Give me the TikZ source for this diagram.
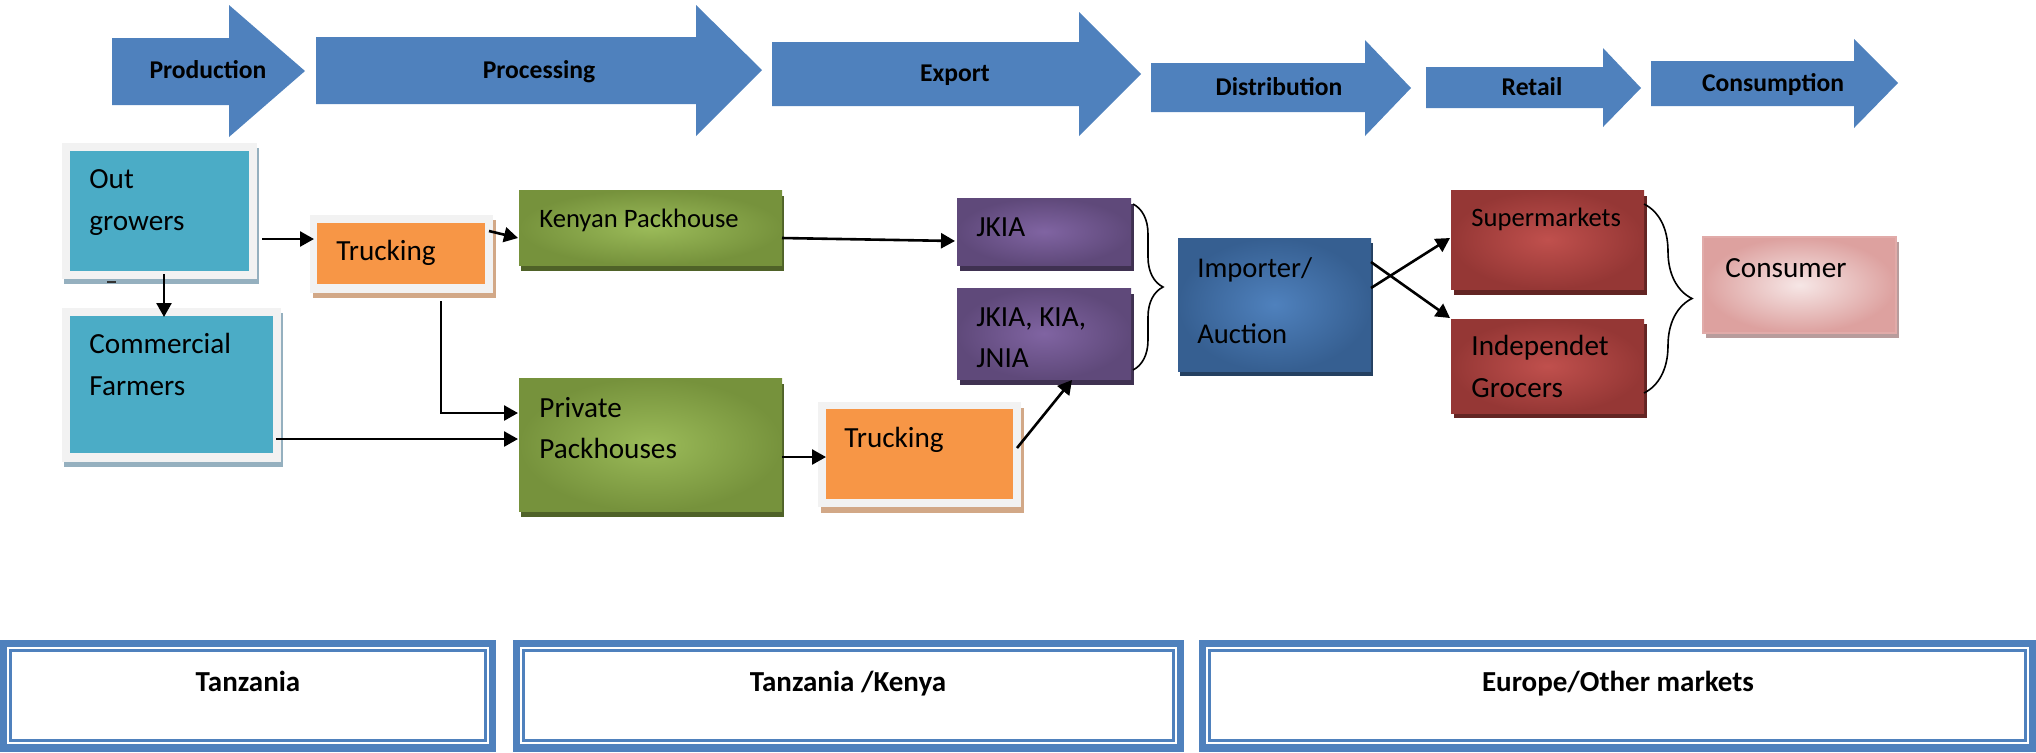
\documentclass[tikz,border=0pt]{standalone}
\usepackage{fontspec}
\setmainfont{Carlito}
\usetikzlibrary{decorations.pathreplacing,arrows.meta}
\definecolor{arrblue}{HTML}{4F81BD}
\definecolor{cteal}{HTML}{4BACC6}
\definecolor{framegray}{HTML}{F2F2F2}
\definecolor{tealshadow}{HTML}{95B0BF}
\definecolor{corange}{HTML}{F79646}
\definecolor{orangeshadow}{HTML}{D2A887}
\definecolor{greenin}{HTML}{9BBB59}
\definecolor{greenout}{HTML}{76923C}
\definecolor{greenshadow}{HTML}{4F6228}
\definecolor{purpin}{HTML}{8064A2}
\definecolor{purpout}{HTML}{5F497A}
\definecolor{purpshadow}{HTML}{3F3151}
\definecolor{bluein}{HTML}{4F81BD}
\definecolor{blueout}{HTML}{365F91}
\definecolor{blueshadow}{HTML}{244061}
\definecolor{redin}{HTML}{C0504D}
\definecolor{redout}{HTML}{953735}
\definecolor{redshadow}{HTML}{632523}
\definecolor{pinklight}{HTML}{F2DCDB}
\definecolor{pinkdark}{HTML}{D99694}
\definecolor{pinkshadow}{HTML}{B89C9C}
\begin{document}
\begin{tikzpicture}[x=0.5pt,y=-0.5pt,
  box/.style={rectangle, inner sep=0pt, outer sep=0pt, anchor=north west},
  txt/.style={anchor=base west, inner sep=0pt, align=left, font=\fontsize{14.6}{21}\selectfont},
  stage/.style={anchor=base, inner sep=0pt, font=\bfseries\fontsize{12.8}{15}\selectfont},
  region/.style={anchor=base, inner sep=0pt, font=\bfseries\fontsize{14.5}{17}\selectfont},
  conn/.style={draw=black, line width=1.3pt, -{Triangle[length=7pt,width=7.5pt]}},
  brace/.style={draw=black, line width=0.8pt, decorate},
  greenbox/.style={box, inner color=greenin, outer color=greenout},
  purpbox/.style={box, inner color=purpin, outer color=purpout},
  redbox/.style={box, inner color=redin, outer color=redout}
]
\useasboundingbox (0,0) rectangle (2036,752);

% ---------- stage arrows ----------
\fill[arrblue] (112,38) -- (229,38) -- (229,5) -- (305,71) -- (229,137) -- (229,105) -- (112,105) -- cycle;
\fill[arrblue] (316,37) -- (696,37) -- (696,5) -- (762,70) -- (696,136) -- (696,104) -- (316,104) -- cycle;
\fill[arrblue] (772,42) -- (1079,42) -- (1079,12) -- (1141,74) -- (1079,136) -- (1079,106) -- (772,106) -- cycle;
\fill[arrblue] (1151,63) -- (1365,63) -- (1365,40) -- (1411,88) -- (1365,136) -- (1365,112) -- (1151,112) -- cycle;
\fill[arrblue] (1426,67) -- (1603,67) -- (1603,48) -- (1641,88) -- (1603,127) -- (1603,108) -- (1426,108) -- cycle;
\fill[arrblue] (1651,61) -- (1854,61) -- (1854,39) -- (1898,83) -- (1854,128) -- (1854,106) -- (1651,106) -- cycle;
\node[stage] (sProd) at (208,78) {Production};
\node[stage] (sProc) at (539,78) {Processing};
\node[stage] (sExp) at (955,81) {Export};
\node[stage] (sDist) at (1279,95) {Distribution};
\node[stage] (sRet) at (1532,95) {Retail};
\node[stage] (sCons) at (1773,91) {Consumption};

% ---------- Out growers ----------
\fill[tealshadow] (64,148) rectangle (259,284);
\node[box, fill=framegray, minimum width=97.5pt, minimum height=68pt] (ogF) at (62,143) {};
\node[box, fill=cteal, minimum width=89.5pt, minimum height=60pt] (og) at (70,151) {};
\node[txt] (ogT) at (89,230) {Out\\growers};
\fill[black!80] (107,281) rectangle (116,283);

% ---------- Commercial Farmers ----------
\fill[tealshadow] (64,313) rectangle (283,467);
\node[box, fill=framegray, minimum width=109.5pt, minimum height=77pt] (cfF) at (62,308) {};
\node[box, fill=cteal, minimum width=101.5pt, minimum height=68.5pt] (cf) at (70,316) {};
\node[txt] (cfT) at (89,395) {Commercial\\Farmers};

% ---------- Trucking 1 ----------
\fill[orangeshadow] (313,220) rectangle (496,298);
\node[box, fill=framegray, minimum width=91.5pt, minimum height=39pt] (tr1F) at (310,215) {};
\node[box, fill=corange, minimum width=84pt, minimum height=30.5pt] (tr1) at (317,223) {};
\node[txt] (tr1T) at (336,260) {Trucking};

% ---------- Kenyan Packhouse ----------
\fill[greenshadow] (521,196) rectangle (784,271);
\node[greenbox, minimum width=131.5pt, minimum height=37.5pt] (kp) at (519,190) {};
\node[txt, font=\fontsize{13.3}{19}\selectfont] (kpT) at (539,227) {Kenyan Packhouse};

% ---------- Private Packhouses ----------
\fill[greenshadow] (521,384) rectangle (784,517);
\node[greenbox, minimum width=131.5pt, minimum height=66.5pt] (pp) at (519,378) {};
\node[txt, font=\fontsize{14.6}{20.5}\selectfont] (ppT) at (539,458) {Private\\Packhouses};

% ---------- Trucking 2 ----------
\fill[orangeshadow] (821,408) rectangle (1024,513);
\node[box, fill=framegray, minimum width=101.5pt, minimum height=52.5pt] (tr2F) at (818,402) {};
\node[box, fill=corange, minimum width=93.5pt, minimum height=45pt] (tr2) at (826,409) {};
\node[txt] (tr2T) at (844,447) {Trucking};

% ---------- JKIA ----------
\fill[purpshadow] (960,204) rectangle (1134,271);
\node[purpbox, minimum width=87pt, minimum height=33.5pt] (jk) at (957,198) {};
\node[txt] (jkT) at (976,236) {JKIA};

\fill[purpshadow] (960,294) rectangle (1134,385);
\node[purpbox, minimum width=87pt, minimum height=45.5pt] (jk2) at (957,288) {};
\node[txt, font=\fontsize{14.6}{20.5}\selectfont] (jk2T) at (976,367) {JKIA, KIA,\\JNIA};

% ---------- Importer ----------
\fill[blueshadow] (1180,243) rectangle (1373,376);
\node[box, inner color=bluein, outer color=blueout, minimum width=96.5pt, minimum height=66.5pt] (im) at (1178,238) {};
\node[txt, font=\fontsize{14.3}{33}\selectfont] (imT) at (1197,343) {Importer/\\Auction};

% ---------- Supermarkets / Grocers ----------
\fill[redshadow] (1454,196) rectangle (1647,295);
\node[redbox, minimum width=96.5pt, minimum height=49.5pt] (sm) at (1451,190) {};
\node[txt, font=\fontsize{13.3}{19}\selectfont] (smT) at (1471,226) {Supermarkets};

\fill[redshadow] (1454,324) rectangle (1647,418);
\node[redbox, minimum width=96.5pt, minimum height=47pt] (ig) at (1451,319) {};
\node[txt] (igT) at (1471,397) {Independet\\Grocers};

% ---------- Consumer ----------
\fill[pinkshadow] (1706,242) rectangle (1899,338);
\node[box, inner color=pinklight!70!white, outer color=pinkdark!85!pinklight,
      draw=pinkdark!80, line width=0.8pt, minimum width=96.5pt, minimum height=48pt] (cons) at (1703,237) {};
\node[txt] (consT) at (1725,277) {Consumer};

% ---------- connectors ----------
\draw[conn] ([shift={(5,28)}]ogF.east) -- ([shift={(4,-15)}]tr1F.west);
\draw[conn] ([shift={(-4,-23)}]tr1F.east) -- ([shift={(-1,10.5)}]kp.west);
\draw[conn] ([shift={(4.5,3)}]og.south) -- ([shift={(-7.5,1)}]cf.north);
\draw[conn] ([shift={(39.5,8)}]tr1F.south) |- ([shift={(-1,-31.5)}]pp.west);
\draw[conn] ([shift={(-5,54)}]cfF.east) -- ([shift={(-1,-5.5)}]pp.west);
\draw[conn] ([shift={(0,10.5)}]kp.east) -- ([shift={(-2,9.5)}]jk.west);
\draw[conn] ([shift={(0,12.5)}]pp.east) -- ([shift={(0,3)}]tr2.west);
\draw[conn] ([shift={(-4,-6.5)}]tr2F.east) -- ([shift={(28,1)}]jk2.south);
\draw[conn] ([shift={(0,-16.5)}]im.east) -- ([shift={(-1,-1.5)}]sm.west);
\draw[conn] ([shift={(0,-42.5)}]im.east) -- ([shift={(-1,-1)}]ig.north west);

% ---------- braces ----------
\draw[brace, decoration={brace, amplitude=15pt}] ([shift={(2,6)}]jk.north east) -- ([shift={(2,-9)}]jk2.south east);
\draw[brace, decoration={brace, amplitude=24pt}] ([shift={(0,14)}]sm.north east) -- ([shift={(0,-20)}]ig.south east);

% ---------- region boxes ----------
\node[box, fill=arrblue, minimum width=248pt, minimum height=56pt] (rTz) at (0,640) {};
\node[box, fill=arrblue, minimum width=335.5pt, minimum height=56pt] (rTk) at (513,640) {};
\node[box, fill=arrblue, minimum width=418.5pt, minimum height=56pt] (rEu) at (1199,640) {};
\foreach \r in {rTz,rTk,rEu}{
  \fill[white] ([shift={(7,7)}]\r.north west) rectangle ([shift={(-7,-8)}]\r.south east);
  \draw[arrblue, line width=1.3pt] ([shift={(10.5,10.5)}]\r.north west) rectangle ([shift={(-10.5,-11.5)}]\r.south east);
}
\node[region] (rTzT) at (248,691) {Tanzania};
\node[region] (rTkT) at (848,691) {Tanzania /Kenya};
\node[region] (rEuT) at (1618,691) {Europe/Other markets};
\end{tikzpicture}
\end{document}
